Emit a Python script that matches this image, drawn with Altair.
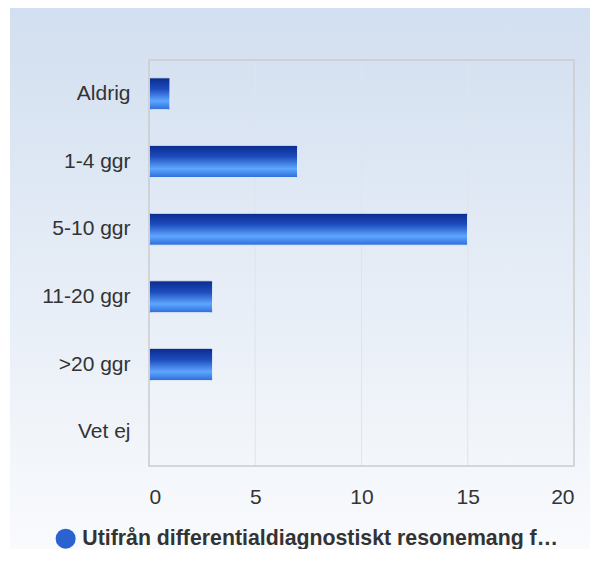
import altair as alt
import pandas as pd

categories = ["Aldrig", "1-4 ggr", "5-10 ggr", "11-20 ggr", ">20 ggr", "Vet ej"]
values = [1, 7, 15, 3, 3, 0]
series_name = "Utifrån differentialdiagnostiskt resonemang f…"
x_ticks = [0, 5, 10, 15, 20]
grid_vals = [5, 10, 15]

df = pd.DataFrame({"cat": categories, "val": values, "series": [series_name] * len(categories)})

FONT = "Liberation Sans"
W, H = 425, 406

bg = alt.Chart(pd.DataFrame({"a": [0]})).mark_rect(
    clip=False,
    color=alt.LinearGradient(
        gradient="linear", x1=0, y1=0, x2=0, y2=1,
        stops=[alt.GradientStop(offset=0, color="#d2dff0"),
               alt.GradientStop(offset=1, color="#fafbfd")],
    ),
).encode(
    x=alt.value(-139), x2=alt.value(449), y=alt.value(-53), y2=alt.value(501)
)

x_axis = alt.Axis(values=x_ticks, ticks=False, domain=False, labelFontSize=21,
                  labelColor="#333333", labelPadding=20, labelFont=FONT,
                  grid=False, zindex=1)
x_scale = alt.Scale(domain=[0, 20], nice=False)

y_enc = alt.Y("cat:N", sort=categories, title=None,
              scale=alt.Scale(paddingInner=0.52, paddingOuter=0.26),
              axis=alt.Axis(ticks=False, domain=False, labelFontSize=21, labelColor="#333333",
                            labelPadding=19, labelFont=FONT, grid=False, zindex=1))
x_enc = alt.X("val:Q", title=None, scale=x_scale, axis=x_axis)

grid = alt.Chart(pd.DataFrame({"val": grid_vals})).mark_rule(color="#e3e3e3", strokeWidth=1).encode(
    x=alt.X("val:Q", title=None, scale=x_scale, axis=x_axis)
)

so = alt.condition("datum.val > 0", alt.value(1), alt.value(0))

legend_bars = alt.Chart(df).mark_bar(cornerRadius=3, stroke="white", strokeWidth=1.5).encode(
    y=y_enc, x=x_enc, strokeOpacity=so,
    color=alt.Color("series:N", title=None,
                    scale=alt.Scale(range=["#2a62d0"]),
                    legend=alt.Legend(orient="none", legendX=-94, legendY=468,
                                      symbolType="circle", symbolSize=400,
                                      symbolStrokeWidth=0, labelFontSize=21.3,
                                      labelFontWeight="bold", labelColor="#333333",
                                      labelFont=FONT, labelLimit=700, labelOffset=6)),
)

grad_bars = alt.Chart(df).mark_bar(
    cornerRadius=3, stroke="white", strokeWidth=1.5,
    color=alt.LinearGradient(
        gradient="linear", x1=0, y1=0, x2=0, y2=1,
        stops=[alt.GradientStop(offset=0, color="#0a2a8c"),
               alt.GradientStop(offset=0.35, color="#1d4cbc"),
               alt.GradientStop(offset=0.72, color="#5ea6ff"),
               alt.GradientStop(offset=1, color="#2c6bd6")],
    ),
).encode(y=y_enc, x=x_enc, strokeOpacity=so)

border = alt.Chart(pd.DataFrame({"a": [0]})).mark_rect(
    fill=None, stroke="#cccccc", strokeWidth=1.5).encode(
    x=alt.value(0), x2=alt.value(W), y=alt.value(0), y2=alt.value(H)
)

chart = alt.layer(bg, grid, legend_bars, grad_bars, border).properties(
    width=W, height=H,
    autosize=alt.AutoSizeParams(type="none"),
    padding={"left": 141, "top": 52, "right": 16, "bottom": 83},
).configure_view(stroke=None).configure(background="white")

chart.save("out.html", embed_options={"renderer": "svg", "actions": False})
